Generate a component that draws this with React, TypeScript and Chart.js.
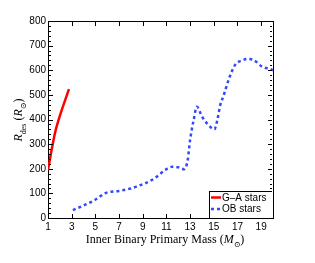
import React, { useEffect, useRef } from "react";
import { Chart, registerables } from "chart.js";

Chart.register(...registerables);

const gaMass = [1, 1.36, 1.62, 2.07, 2.77];
const gaRdes = [195, 290, 351, 425, 523];

const obMass = [3.1, 4.1, 4.95, 5.8, 6.2, 7.0, 8.0, 8.6, 9.2, 10.0, 10.9, 11.5, 12.0, 12.5, 12.8, 13.0, 13.3, 13.57, 14.0, 14.55, 15.05, 15.3, 15.55, 15.8, 16.25, 16.8, 17.4, 17.8, 18.36, 19.07, 19.8, 20];
const obRdes = [32, 53, 73, 100, 106, 110, 120, 130, 141, 161, 195, 208, 206, 198, 236, 317, 398, 452, 412, 378, 360, 398, 460, 493, 561, 622, 640, 646, 642, 615, 604, 600];

const xTicks = [1, 3, 5, 7, 9, 11, 13, 15, 17, 19];
const yTicks = [0, 100, 200, 300, 400, 500, 600, 700, 800];
const yMinorTicks = Array.from({ length: 41 }, (_, i) => i * 20);

const legendLabels = ["G\u2013A stars", "OB stars"];

type Part = { t: string; italic?: boolean; sub?: boolean };

function drawRich(ctx: CanvasRenderingContext2D, parts: Part[], size: number, family: string) {
  const fontOf = (p: Part) =>
    `${p.italic ? "italic " : ""}${p.sub ? Math.round(size * 0.7) : size}px ${family}`;
  let w = 0;
  for (const p of parts) {
    ctx.font = fontOf(p);
    w += ctx.measureText(p.t).width;
  }
  let x = -w / 2;
  ctx.textBaseline = "alphabetic";
  ctx.textAlign = "left";
  for (const p of parts) {
    ctx.font = fontOf(p);
    ctx.fillText(p.t, x, p.sub ? size * 0.3 : 0);
    x += ctx.measureText(p.t).width;
  }
}

const framePlugin = {
  id: "frame",
  afterDraw(chart: any) {
    const ctx: CanvasRenderingContext2D = chart.ctx;
    const a = chart.chartArea;
    const xs = chart.scales.x;
    const ys = chart.scales.y;
    const L = Math.round(a.left);
    const R = Math.round(a.right) - 1;
    const T = Math.round(a.top);
    const B = Math.round(a.bottom);
    ctx.save();
    ctx.fillStyle = "#000";
    for (const v of xTicks) {
      const px = Math.round(xs.getPixelForValue(v));
      ctx.fillRect(px, B - 4, 1, 4);
      ctx.fillRect(px, T + 1, 1, 4);
    }
    for (const v of yMinorTicks) {
      const py = Math.round(ys.getPixelForValue(v));
      const len = v % 100 === 0 ? 4 : 2;
      ctx.fillRect(L + 1, py, len, 1);
      ctx.fillRect(R - len, py, len, 1);
    }

    // legend box
    const lx = 209, ly = 191;
    ctx.fillStyle = "#fff";
    ctx.fillRect(lx + 1, ly + 1, R - lx - 1, B - ly - 1);
    ctx.fillStyle = "#000";
    ctx.fillRect(lx, ly, R - lx, 1);
    ctx.fillRect(lx, ly, 1, B - ly);
    const ds = chart.data.datasets;
    const rows = [197.5, 209];
    rows.forEach((ry: number, i: number) => {
      ctx.beginPath();
      ctx.strokeStyle = ds[i].borderColor;
      ctx.lineWidth = ds[i].borderWidth;
      ctx.setLineDash(ds[i].borderDash || []);
      ctx.moveTo(211, ry);
      ctx.lineTo(221, ry);
      ctx.stroke();
      ctx.setLineDash([]);
      ctx.fillStyle = "#000";
      ctx.font = "10px 'Liberation Sans', Arial, sans-serif";
      ctx.textAlign = "left";
      ctx.textBaseline = "middle";
      ctx.fillText(legendLabels[i], 222, ry + 0.5);
    });

    // axis titles
    ctx.fillStyle = "#000";
    ctx.save();
    ctx.translate(22, 120);
    ctx.rotate(-Math.PI / 2);
    drawRich(
      ctx,
      [
        { t: "R", italic: true },
        { t: "des", sub: true },
        { t: " (" },
        { t: "R", italic: true },
        { t: "\u2299", sub: true },
        { t: ")" },
      ],
      12,
      "'Liberation Serif', 'DejaVu Serif', serif"
    );
    ctx.restore();
    ctx.save();
    ctx.translate(165, 243);
    drawRich(
      ctx,
      [
        { t: "Inner Binary Primary Mass (" },
        { t: "M", italic: true },
        { t: "\u2299", sub: true },
        { t: ")" },
      ],
      12,
      "'Liberation Serif', 'DejaVu Serif', serif"
    );
    ctx.restore();
    ctx.restore();
  },
};

const edge = { display: true, color: "#000", width: 1 };

export default function App() {
  const ref = useRef<HTMLCanvasElement>(null);
  useEffect(() => {
    if (!ref.current) return;
    const chart = new Chart(ref.current, {
      type: "line",
      data: {
        datasets: [
          {
            label: legendLabels[0],
            data: gaMass.map((m, i) => ({ x: m, y: gaRdes[i] })),
            borderColor: "#ff0000",
            borderWidth: 2.5,
            pointRadius: 0,
            cubicInterpolationMode: "monotone",
          },
          {
            label: legendLabels[1],
            data: obMass.map((m, i) => ({ x: m, y: obRdes[i] })),
            borderColor: "#3347ff",
            borderWidth: 2.5,
            borderDash: [3, 3],
            pointRadius: 0,
            cubicInterpolationMode: "monotone",
          },
        ],
      },
      options: {
        responsive: false,
        animation: false,
        layout: { padding: { top: 21, right: 42, left: 0, bottom: 0 } },
        plugins: { legend: { display: false }, tooltip: { enabled: false } },
        scales: {
          x: {
            type: "linear",
            min: 1,
            max: 20,
            grid: { display: false, drawTicks: false },
            border: edge,
            afterBuildTicks: (s: any) => {
              s.ticks = xTicks.map((v) => ({ value: v }));
            },
            afterFit: (s: any) => {
              s.height = 45;
            },
            ticks: {
              padding: 3,
              color: "#000",
              font: { family: "'Liberation Sans', Arial, sans-serif", size: 10 },
              maxRotation: 0,
              autoSkip: false,
            },
          },
          x2: {
            type: "linear",
            position: "top",
            min: 1,
            max: 20,
            grid: { display: false, drawTicks: false },
            border: edge,
            ticks: { display: false },
            afterFit: (s: any) => {
              s.height = 0;
            },
          },
          y: {
            type: "linear",
            min: 0,
            max: 800,
            grid: { display: false, drawTicks: false },
            border: edge,
            afterBuildTicks: (s: any) => {
              s.ticks = yTicks.map((v) => ({ value: v }));
            },
            afterFit: (s: any) => {
              s.width = 48;
            },
            ticks: {
              padding: 2,
              color: "#000",
              font: { family: "'Liberation Sans', Arial, sans-serif", size: 10 },
              autoSkip: false,
            },
          },
          y2: {
            type: "linear",
            position: "right",
            min: 0,
            max: 800,
            grid: { display: false, drawTicks: false },
            border: edge,
            ticks: { display: false },
            afterFit: (s: any) => {
              s.width = 0;
            },
          },
        },
      },
      plugins: [framePlugin],
    } as any);
    return () => chart.destroy();
  }, []);
  return (
    <div style={{ position: "fixed", left: 0, top: 0, width: 315, height: 263, background: "#fff" }}>
      <canvas ref={ref} width={315} height={263} />
    </div>
  );
}
